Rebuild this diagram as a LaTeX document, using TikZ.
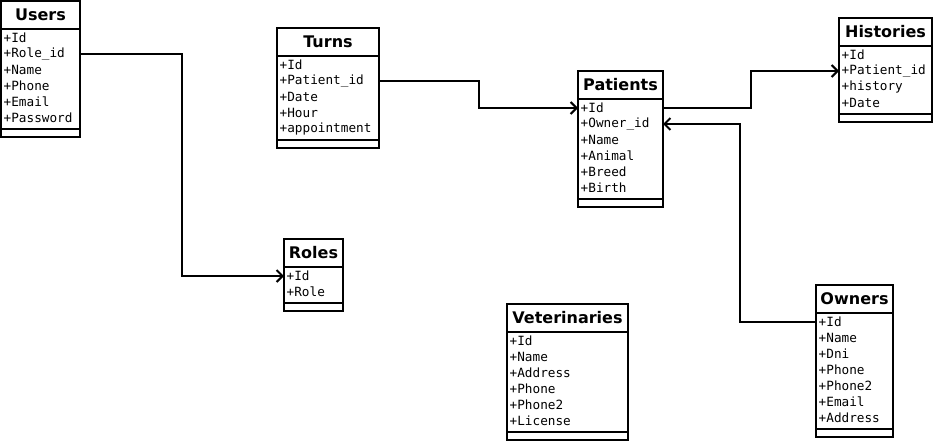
\documentclass[tikz,border=0pt]{standalone}
\usepackage{fontspec}
\setmainfont{DejaVu Sans}
\setmonofont{DejaVu Sans Mono}
\usetikzlibrary{calc}
\usetikzlibrary{arrows.meta}

\tikzset{
  titlebox/.style={draw, line width=2pt, anchor=north west, minimum height=28, inner sep=0pt, outer sep=0pt,
    font=\fontsize{16}{18}\selectfont\bfseries},
  rowtext/.style={anchor=west, inner xsep=2.5pt, inner ysep=0pt, font=\fontsize{12.7}{16}\selectfont\ttfamily},
  tablebox/.style={line width=2pt},
  link/.style={line width=2pt, line join=miter, -{Straight Barb[length=6pt,width=12pt]}}
}

% name, left, top, width, title, number of rows, rows
\newcommand\erdtable[7]{%
  \node[titlebox, minimum width=#4] (#1) at (#2,#3) {#5};
  \foreach \f [count=\i] in {#7}
    \node[rowtext] (#1-\i) at (#2,{#3+37+16*(\i-1)}) {\f};
  \draw[tablebox] (#2,{#3+28}) rectangle ({#2+#4},{#3+39.5+16*#6})
    (#2,{#3+31.5+16*#6}) -- ++(#4,0);
}

\begin{document}
\begin{tikzpicture}[x=1pt,y=-1pt]

\fill[white] (0,0) rectangle (936,442);

\erdtable{users}{1}{1}{79}{Users}{6}{+Id,+Role\_id,+Name,+Phone,+Email,+Password}
\erdtable{turns}{277}{28}{102}{Turns}{5}{+Id,+Patient\_id,+Date,+Hour,+appointment}
\erdtable{patients}{578}{71}{85}{Patients}{6}{+Id,+Owner\_id,+Name,+Animal,+Breed,+Birth}
\erdtable{histories}{839}{18}{93}{Histories}{4}{+Id,+Patient\_id,+history,+Date}
\erdtable{roles}{284}{239}{59}{Roles}{2}{+Id,+Role}
\erdtable{vets}{507}{304}{121}{Veterinaries}{6}{+Id,+Name,+Address,+Phone,+Phone2,+License}
\erdtable{owners}{816}{285}{77}{Owners}{7}{+Id,+Name,+Dni,+Phone,+Phone2,+Email,+Address}

\draw[link] (users-2 -| users.east) -| ($(users-2 -| users.east)!.5!(roles-1 -| roles.west)$)
  |- (roles-1 -| roles.west);
\draw[link] (turns-2 -| turns.east) -| ($(turns-2 -| turns.east)!.5!(patients-1 -| patients.west)$)
  |- (patients-1 -| patients.west);
\draw[link] (patients-1 -| patients.east) -| ($(patients-1 -| patients.east)!.5!(histories-2 -| histories.west)$)
  |- (histories-2 -| histories.west);
\draw[link] (owners-1 -| owners.west) -| ($(owners-1 -| owners.west)!.5!(patients-2 -| patients.east)$)
  |- (patients-2 -| patients.east);

\end{tikzpicture}
\end{document}
